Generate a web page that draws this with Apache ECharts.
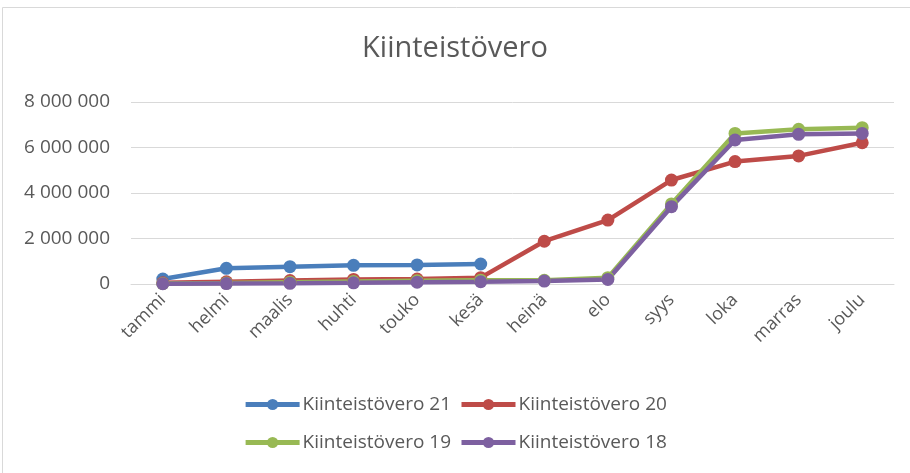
<!DOCTYPE html>
<html>
<head>
<meta charset="utf-8">
<script src="https://cdn.jsdelivr.net/npm/echarts@6/dist/echarts.min.js"></script>
<style>
  html, body { margin: 0; padding: 0; background: #fff; }
  #main { width: 910px; height: 473px; }
</style>
</head>
<body>
<div id="main"></div>
<script>
var months = ['tammi', 'helmi', 'maalis', 'huhti', 'touko', 'kesä', 'heinä', 'elo', 'syys', 'loka', 'marras', 'joulu'];
var vero21 = [220000, 690000, 760000, 820000, 840000, 880000];
var vero20 = [50000, 100000, 150000, 200000, 220000, 280000, 1880000, 2810000, 4570000, 5380000, 5630000, 6210000];
var vero19 = [20000, 40000, 80000, 110000, 140000, 170000, 160000, 280000, 3520000, 6620000, 6800000, 6870000];
var vero18 = [10000, 20000, 30000, 50000, 80000, 100000, 130000, 200000, 3400000, 6330000, 6580000, 6620000];

var font = 'Open Sans';
var textColor = '#595959';

function fmt(v) {
  return String(v).replace(/\B(?=(\d{3})+(?!\d))/g, ' ');
}

function serie(name, color, data) {
  return {
    name: name,
    type: 'line',
    data: data,
    symbol: 'circle',
    symbolSize: 13,
    lineStyle: { width: 4.5, color: color },
    itemStyle: { color: color },
    emphasis: { disabled: true }
  };
}

function legendRow(names, top) {
  return {
    data: names,
    top: top,
    left: 'center',
    itemWidth: 54,
    itemHeight: 14,
    itemGap: 8,
    lineStyle: { width: 5 },
    textStyle: { fontFamily: font, fontSize: 19, color: textColor, padding: [0, 0, 0, -2] }
  };
}

var myChart = echarts.init(document.getElementById('main'));
var option = {
  animation: false,
  textStyle: { fontFamily: font },
  graphic: [{
    type: 'rect',
    shape: { x: 2.5, y: 7.5, width: 920, height: 480 },
    style: { fill: 'none', stroke: '#d9d9d9', lineWidth: 1 }
  }],
  title: {
    text: 'Kiinteistövero',
    left: 'center',
    top: 29,
    textStyle: { fontFamily: font, fontSize: 29, fontWeight: 'normal', color: textColor }
  },
  legend: [
    legendRow(['Kiinteistövero 21', 'Kiinteistövero 20'], 390),
    legendRow(['Kiinteistövero 19', 'Kiinteistövero 18'], 428)
  ],
  grid: { left: 131, right: 16, top: 102, bottom: 189 },
  xAxis: {
    type: 'category',
    data: months,
    boundaryGap: true,
    axisLine: { lineStyle: { color: '#d9d9d9' } },
    axisTick: { show: false },
    axisLabel: { rotate: 45, fontSize: 18, color: textColor, margin: 13, fontFamily: font }
  },
  yAxis: {
    type: 'value',
    min: 0,
    max: 8000000,
    interval: 2000000,
    axisLine: { show: false },
    axisTick: { show: false },
    splitLine: { lineStyle: { color: '#d9d9d9', width: 1 } },
    axisLabel: { fontSize: 19, color: textColor, margin: 21, fontFamily: font, formatter: fmt }
  },
  series: [
    serie('Kiinteistövero 21', '#4a7ebb', vero21),
    serie('Kiinteistövero 20', '#be4b48', vero20),
    serie('Kiinteistövero 19', '#98b954', vero19),
    serie('Kiinteistövero 18', '#7d60a0', vero18)
  ]
};
myChart.setOption(option);
</script>
</body>
</html>
